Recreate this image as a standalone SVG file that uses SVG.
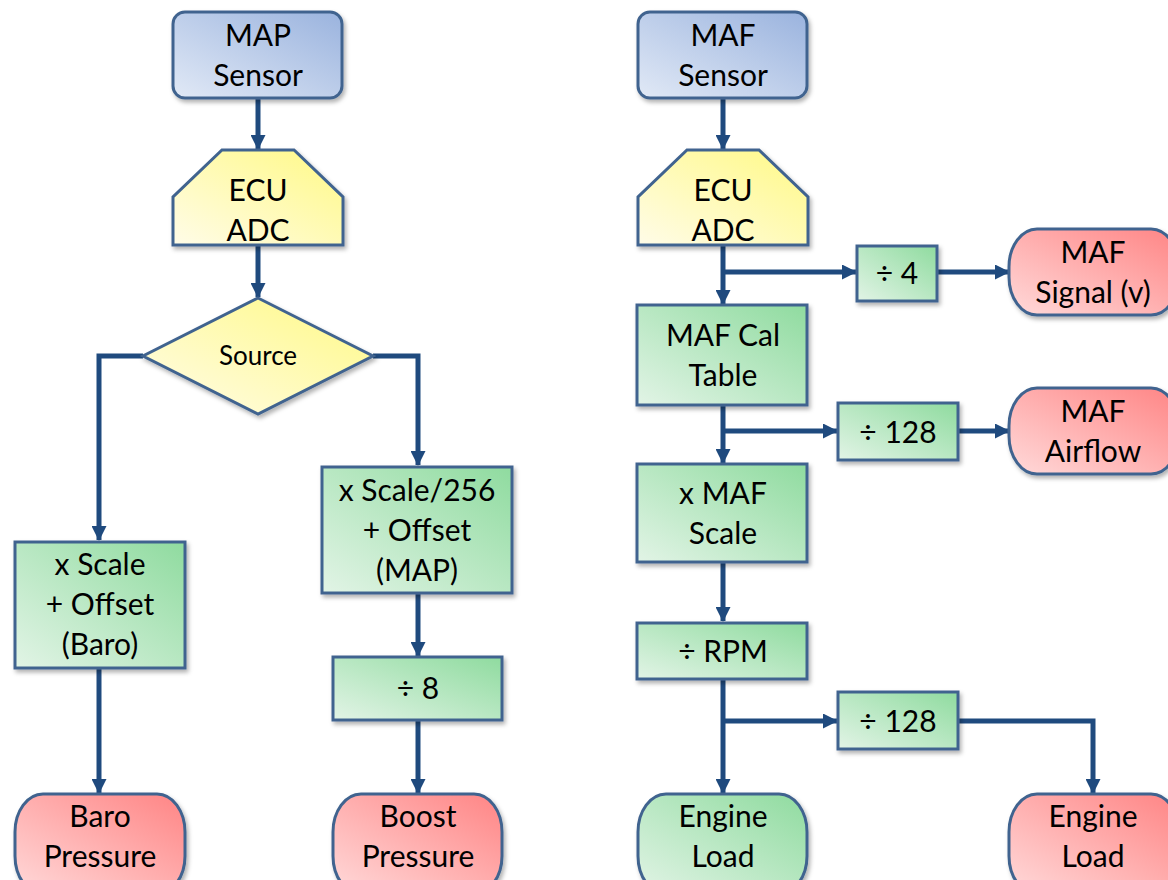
<svg xmlns="http://www.w3.org/2000/svg" width="1168" height="880" viewBox="0 0 1168 880">
<defs>
<style>
.n{stroke:#41648f;stroke-width:3;filter:url(#sh)}
.t{font-family:Lato,"Open Sans","Liberation Sans",sans-serif;font-size:30px;fill:#000;text-anchor:middle}
.c{fill:none;stroke:#1f4a7e;stroke-width:5}
.a{marker-end:url(#arr)}
</style>
<linearGradient id="gb" x1="0" y1="1" x2="1" y2="0"><stop offset="0" stop-color="#e1e9f6"/><stop offset="1" stop-color="#9ab3de"/></linearGradient>
<linearGradient id="gy" x1="0" y1="1" x2="1" y2="0"><stop offset="0" stop-color="#fffce8"/><stop offset="1" stop-color="#fff985"/></linearGradient>
<linearGradient id="gg" x1="0" y1="1" x2="1" y2="0"><stop offset="0" stop-color="#e2f4e6"/><stop offset="1" stop-color="#8fdb9f"/></linearGradient>
<linearGradient id="gr" x1="0" y1="1" x2="1" y2="0"><stop offset="0" stop-color="#ffdada"/><stop offset="1" stop-color="#ff8484"/></linearGradient>
<filter id="sh" x="-10%" y="-10%" width="130%" height="130%"><feDropShadow dx="2" dy="3" stdDeviation="2" flood-color="#000" flood-opacity="0.3"/></filter>
<marker id="arr" viewBox="0 0 15 15" refX="14" refY="7.5" markerWidth="15" markerHeight="15" markerUnits="userSpaceOnUse" orient="auto"><path d="M0,0 L15,7.5 L0,15 z" fill="#1f4a7e"/></marker>
</defs>

<g id="connectors">
<path class="c a" d="M258,98 V149"/>
<path class="c a" d="M258,245 V297"/>
<path class="c a" d="M143,356 H99 V540"/>
<path class="c a" d="M373,356 H418 V465"/>
<path class="c a" d="M99,667 V793"/>
<path class="c a" d="M418,593 V656"/>
<path class="c a" d="M418,720 V793"/>
<path class="c a" d="M723,98 V149"/>
<path class="c a" d="M723,245 V304"/>
<path class="c a" d="M723,272 H856"/>
<path class="c a" d="M937,272 H1009"/>
<path class="c a" d="M723,405 V463"/>
<path class="c a" d="M723,431 H837"/>
<path class="c a" d="M958,431 H1009"/>
<path class="c a" d="M723,562 V621"/>
<path class="c a" d="M723,679 V793"/>
<path class="c a" d="M723,721 H837"/>
<path class="c a" d="M958,721 H1093 V793"/>
</g>

<g id="map-sensor"><rect class="n" x="173" y="12" width="169" height="86" rx="12" fill="url(#gb)"/><text class="t" x="258" y="46">MAP</text><text class="t" x="258" y="86">Sensor</text></g>
<g id="ecu-adc-left"><path class="n" d="M222,150 H294 L343,197 V245 H173 V197 Z" fill="url(#gy)"/><text class="t" x="258" y="201">ECU</text><text class="t" x="258" y="241">ADC</text></g>
<g id="source"><path class="n" d="M258,298 L373,356 L258,414 L143,356 Z" fill="url(#gy)"/><text class="t" x="258" y="365" style="font-size:26px">Source</text></g>
<g id="scale-baro"><rect class="n" x="15" y="542" width="170" height="126" fill="url(#gg)"/><text class="t" x="100" y="575">x Scale</text><text class="t" x="100" y="615">+ Offset</text><text class="t" x="100" y="655">(Baro)</text></g>
<g id="scale-map"><rect class="n" x="322" y="467" width="190" height="126" fill="url(#gg)"/><text class="t" x="417" y="501">x Scale/256</text><text class="t" x="417" y="541">+ Offset</text><text class="t" x="417" y="581">(MAP)</text></g>
<g id="div8"><rect class="n" x="333" y="657" width="169" height="63" fill="url(#gg)"/><text class="t" x="418" y="699">÷ 8</text></g>
<g id="baro-pressure"><rect class="n" x="15" y="794" width="170" height="100" rx="28" ry="38" fill="url(#gr)"/><text class="t" x="100" y="827">Baro</text><text class="t" x="100" y="867">Pressure</text></g>
<g id="boost-pressure"><rect class="n" x="333" y="794" width="169" height="100" rx="28" ry="38" fill="url(#gr)"/><text class="t" x="418" y="827">Boost</text><text class="t" x="418" y="867">Pressure</text></g>

<g id="maf-sensor"><rect class="n" x="638" y="12" width="169" height="86" rx="12" fill="url(#gb)"/><text class="t" x="723" y="46">MAF</text><text class="t" x="723" y="86">Sensor</text></g>
<g id="ecu-adc-right"><path class="n" d="M687,150 H759 L808,197 V245 H638 V197 Z" fill="url(#gy)"/><text class="t" x="723" y="201">ECU</text><text class="t" x="723" y="241">ADC</text></g>
<g id="div4"><rect class="n" x="857" y="246" width="80" height="55" fill="url(#gg)"/><text class="t" x="897" y="284">÷ 4</text></g>
<g id="maf-signal"><rect class="n" x="1009" y="229" width="170" height="86" rx="28" ry="38" fill="url(#gr)"/><text class="t" x="1093" y="263">MAF</text><text class="t" x="1093" y="303">Signal (v)</text></g>
<g id="maf-cal"><rect class="n" x="637" y="305" width="170" height="100" fill="url(#gg)"/><text class="t" x="723" y="346">MAF Cal</text><text class="t" x="723" y="386">Table</text></g>
<g id="div128a"><rect class="n" x="838" y="403" width="120" height="57" fill="url(#gg)"/><text class="t" x="898" y="443">÷ 128</text></g>
<g id="maf-airflow"><rect class="n" x="1009" y="388" width="170" height="86" rx="28" ry="38" fill="url(#gr)"/><text class="t" x="1093" y="422">MAF</text><text class="t" x="1093" y="462">Airflow</text></g>
<g id="maf-scale"><rect class="n" x="637" y="464" width="170" height="98" fill="url(#gg)"/><text class="t" x="723" y="504">x MAF</text><text class="t" x="723" y="544">Scale</text></g>
<g id="div-rpm"><rect class="n" x="637" y="623" width="170" height="56" fill="url(#gg)"/><text class="t" x="723" y="662">÷ RPM</text></g>
<g id="div128b"><rect class="n" x="838" y="692" width="120" height="57" fill="url(#gg)"/><text class="t" x="898" y="732">÷ 128</text></g>
<g id="engine-load-green"><rect class="n" x="638" y="794" width="169" height="100" rx="28" ry="38" fill="url(#gg)"/><text class="t" x="723" y="827">Engine</text><text class="t" x="723" y="867">Load</text></g>
<g id="engine-load-red"><rect class="n" x="1009" y="794" width="170" height="100" rx="28" ry="38" fill="url(#gr)"/><text class="t" x="1093" y="827">Engine</text><text class="t" x="1093" y="867">Load</text></g>
</svg>
